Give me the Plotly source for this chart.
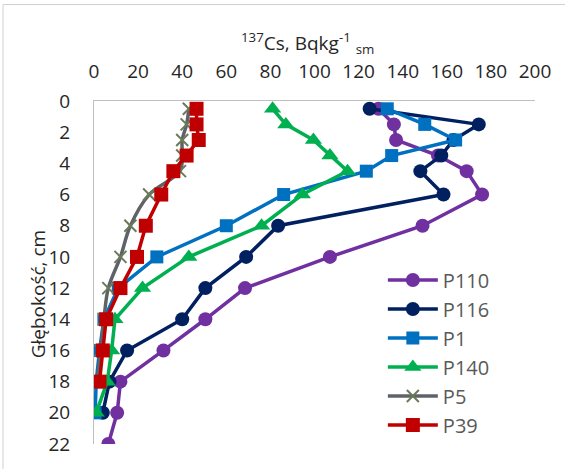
import plotly.graph_objects as go

# depth (cm) and 137Cs activity (Bq/kg)
depth_p110 = [0.5, 1.5, 2.5, 3.5, 4.5, 6, 8, 10, 12, 14, 16, 18, 20, 22]
cs_p110 = [129, 136, 137, 156, 169, 176, 149, 107, 68.5, 50.5, 31.5, 12, 10.5, 6.5]

depth_p116 = [0.5, 1.5, 2.5, 3.5, 4.5, 6, 8, 10, 12, 14, 16, 18, 20]
cs_p116 = [125, 174.5, 163, 157.5, 148, 158.5, 83.5, 69, 50.5, 40, 15, 7, 4]

depth_p1 = [0.5, 1.5, 2.5, 3.5, 4.5, 6, 8, 10, 12, 14, 16, 18, 20]
cs_p1 = [133, 150, 164, 135, 123.5, 86, 60, 28.5, 11, 4.5, 2.5, 1, 0.5]

depth_p140 = [0.5, 1.5, 2.5, 3.5, 4.5, 6, 8, 10, 12, 14, 16, 18, 20]
cs_p140 = [81, 87, 99.5, 107, 115, 94.5, 76, 43, 22, 9.5, 8, 6, 1]

depth_p5 = [0.5, 1.5, 2.5, 3.5, 4.5, 6, 8, 10, 12, 14, 16, 18]
cs_p5 = [43, 42, 40, 40, 39, 25, 16.5, 12, 6.5, 4.5, 3, 1.5]

depth_p39 = [0.5, 1.5, 2.5, 3.5, 4.5, 6, 8, 10, 12, 14, 16, 18]
cs_p39 = [46.5, 46.5, 47.5, 42, 36, 30.5, 23.5, 19.5, 12, 5.5, 4, 2.5]

x_ticks = [0, 20, 40, 60, 80, 100, 120, 140, 160, 180, 200]
y_ticks = [0, 2, 4, 6, 8, 10, 12, 14, 16, 18, 20, 22]

FONT = "Open Sans"

series = [
    ("P110", depth_p110, cs_p110, "#7030A0", "circle", 14, "#7030A0", "linear"),
    ("P116", depth_p116, cs_p116, "#002060", "circle", 14, "#002060", "linear"),
    ("P1", depth_p1, cs_p1, "#0070C0", "square", 13, "#0070C0", "linear"),
    ("P140", depth_p140, cs_p140, "#00B050", "triangle-up", 15, "#00B050", "linear"),
    ("P5", depth_p5, cs_p5, "#5f6368", "x-thin", 12, "#6b7b5a", "spline"),
    ("P39", depth_p39, cs_p39, "#C00000", "square", 14, "#C00000", "linear"),
]

fig = go.Figure()
for name, d, v, col, sym, size, mcol, shape in series:
    marker = dict(symbol=sym, size=size, color=mcol)
    if sym == "x-thin":
        marker["line"] = dict(color=mcol, width=2)
    else:
        marker["line"] = dict(color=mcol, width=0)
    fig.add_trace(go.Scatter(
        x=v, y=d, name=name, mode="lines+markers",
        line=dict(color=col, width=3.5, shape=shape),
        marker=marker, legendgroup=name,
    ))

fig.update_layout(
    width=565, height=469,
    margin=dict(l=94, r=30, t=101, b=23),
    paper_bgcolor="white", plot_bgcolor="white",
    font=dict(family=FONT, size=19, color="#262626"),
    showlegend=True,
    legend=dict(
        x=0.655, xanchor="left", y=0.535, yanchor="top",
        font=dict(family=FONT, size=20, color="#595959"),
        bgcolor="rgba(0,0,0,0)", itemwidth=50, tracegroupgap=0,
    ),
    xaxis=dict(
        side="top", range=[0, 200], tickvals=x_ticks,
        showline=True, linecolor="#bfbfbf", linewidth=1, mirror=False,
        showgrid=False, zeroline=False, ticks="", ticklabelstandoff=14,
        tickfont=dict(family=FONT, size=19, color="#262626"),
    ),
    yaxis=dict(
        range=[22, 0], tickvals=y_ticks,
        showline=True, linecolor="#bfbfbf", linewidth=1,
        showgrid=False, zeroline=False, ticks="", ticklabelstandoff=19,
        tickfont=dict(family=FONT, size=19, color="#262626"),
    ),
    annotations=[
        dict(text="<sup>137</sup>Cs, Bqkg<sup>-1</sup> <sub>sm</sub>",
             xref="paper", yref="paper", x=0.485, y=1.17,
             xanchor="center", yanchor="middle", showarrow=False,
             font=dict(family=FONT, size=19, color="#262626")),
        dict(text="Głębokość, cm", textangle=-90,
             xref="paper", yref="paper", x=-0.128, y=0.435,
             xanchor="center", yanchor="middle", showarrow=False,
             font=dict(family=FONT, size=19, color="#262626")),
    ],
    shapes=[
        dict(type="line", xref="paper", yref="paper",
             x0=-0.2063, x1=1.3, y0=1.2812, y1=1.2812,
             line=dict(color="#d0d0d0", width=1), layer="above"),
        dict(type="line", xref="paper", yref="paper",
             x0=-0.2063, x1=-0.2063, y0=-0.3, y1=1.2812,
             line=dict(color="#d0d0d0", width=1), layer="above"),
    ],
)

fig.write_html(
    "out.html",
    config={"displayModeBar": False},
    post_script="document.body.style.margin='0';document.body.style.overflow='hidden';",
)
